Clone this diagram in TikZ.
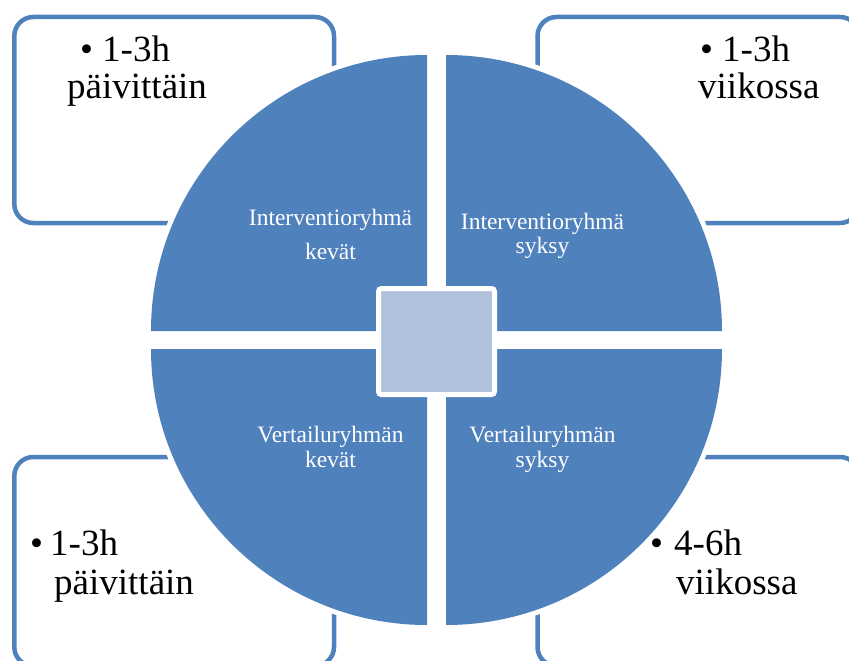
\documentclass[tikz,border=0pt]{standalone}
\usepackage{fontspec}
\setmainfont{Liberation Serif}
\newfontfamily\boxserif{Liberation Serif}
\definecolor{qblue}{HTML}{4F81BD}
\definecolor{qlight}{HTML}{B1C1DC}
\begin{document}
\begin{tikzpicture}[x=1pt,y=1pt,
  infobox/.style={draw=qblue, line width=4.5pt, rounded corners=19pt},
  quad/.style={fill=qblue},
  quadgap/.style={draw=white, line width=10pt, line join=round},
  bigtxt/.style={font=\boxserif\fontsize{37}{37}\selectfont, anchor=base west, inner sep=0pt, text=black},
  qlabel/.style={font=\boxserif\fontsize{23.5}{24}\selectfont, anchor=base, inner sep=0pt, text=white}]
\useasboundingbox (0,0) rectangle (849,-661);
% outer boxes
\draw[infobox] (14.3,-17) rectangle (334,-223);
\draw[infobox] (537.5,-17) rectangle (859,-223);
\draw[infobox] (14.3,-457) rectangle (334,-666);
\draw[infobox] (537.5,-457) rectangle (859,-666);
% quadrants: white halo then blue fill
\draw[quadgap] (427,-331) -- (151,-331) arc[start angle=180,end angle=90,radius=276] -- cycle;
\draw[quadgap] (446,-331) -- (446,-55) arc[start angle=90,end angle=0,radius=276] -- cycle;
\draw[quadgap] (427,-349) -- (427,-625) arc[start angle=270,end angle=180,radius=276] -- cycle;
\draw[quadgap] (446,-349) -- (722,-349) arc[start angle=0,end angle=-90,radius=276] -- cycle;
\fill[quad] (427,-331) -- (151,-331) arc[start angle=180,end angle=90,radius=276] -- cycle;
\fill[quad] (446,-331) -- (446,-55) arc[start angle=90,end angle=0,radius=276] -- cycle;
\fill[quad] (427,-349) -- (427,-625) arc[start angle=270,end angle=180,radius=276] -- cycle;
\fill[quad] (446,-349) -- (722,-349) arc[start angle=0,end angle=-90,radius=276] -- cycle;
% centre square
\node[draw=white, line width=5pt, fill=qlight, minimum width=116pt, minimum height=106pt, inner sep=0pt, rounded corners=3pt] (centre) at (436.5,-341.5) {};
% quadrant labels
\node[qlabel] (tl1) at (330.5,-225) {Interventioryhmä};
\node[qlabel] (tl2) at (330.5,-259) {kevät};
\node[qlabel] (tr1) at (542.5,-229) {Interventioryhmä};
\node[qlabel] (tr2) at (542.5,-253) {syksy};
\node[qlabel] (bl1) at (330.5,-442) {Vertailuryhmän};
\node[qlabel] (bl2) at (330.5,-467) {kevät};
\node[qlabel] (br1) at (542.5,-442) {Vertailuryhmän};
\node[qlabel] (br2) at (542.5,-467) {syksy};
% box texts
\node[bigtxt] (tlb) at (80,-62) {•};
\node[bigtxt] (tla) at (102,-62) {1-3h};
\node[bigtxt] (tlc) at (67,-99) {päivittäin};
\node[bigtxt] (trb) at (700,-62) {•};
\node[bigtxt] (tra) at (722,-62) {1-3h};
\node[bigtxt] (trc) at (698,-99) {viikossa};
\node[bigtxt] (blb) at (30,-555) {•};
\node[bigtxt] (bla) at (50,-555) {1-3h};
\node[bigtxt] (blc) at (54,-594) {päivittäin};
\node[bigtxt] (brb) at (650,-555) {•};
\node[bigtxt] (bra) at (674,-555) {4-6h};
\node[bigtxt] (brc) at (676,-594) {viikossa};
\end{tikzpicture}
\end{document}
